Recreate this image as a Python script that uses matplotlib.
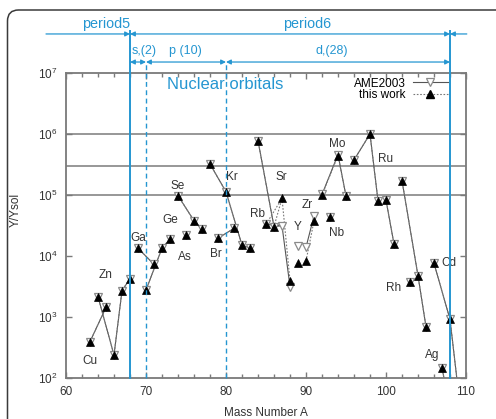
import matplotlib
matplotlib.use("Agg")
import matplotlib.pyplot as plt
from matplotlib.patches import FancyBboxPatch
from matplotlib.transforms import IdentityTransform
from matplotlib.ticker import MultipleLocator, LogLocator, NullLocator

plt.rcParams['font.family'] = ['Liberation Sans', 'DejaVu Sans']
plt.rcParams['mathtext.fontset'] = 'custom'
plt.rcParams['mathtext.rm'] = 'Liberation Sans'
plt.rcParams['mathtext.it'] = 'Liberation Sans:italic'
plt.rcParams['mathtext.bf'] = 'Liberation Sans:bold'

# ---- data -------------------------------------------------------------
mass_numbers = [63, 64, 65, 66, 67, 68, 69, 70, 71, 72, 73, 74, 75, 76, 77,
                78, 79, 80, 81, 82, 83, 84, 85, 86, 87, 88, 89, 90, 91, 92,
                93, 94, 95, 96, 98, 99, 100, 101, 102, 103, 104, 105, 106,
                107, 108, 109, 110]

this_work = [394, 2150, 1440, 238, 2700, 4250, 13400, 2770, 7300, 13400,
             19000, 97500, 22100, 37900, 27700, 322000, 19500, 113000, 28400,
             15100, 13400, 778000, 33000, 30300, 88200, 3940, 7780, 8280,
             37500, 100000, 44100, 441000, 96300, 375000, 1000000, 80700,
             82800, 15700, 172000, 3700, 4750, 693, 7590, 144, 916, 8, 5]

ame2003 = [394, 2150, 1440, 238, 2700, 4250, 13400, 2770, 7300, 13400,
           19000, 97500, 22100, 37900, 27700, 322000, 19500, 113000, 28400,
           15100, 13400, 778000, 33000, 30300, 31400, 3150, 14600, 13900,
           45300, 102000, 44100, 460000, 96300, 375000, 1000000, 80700,
           82800, 15700, 172000, 3700, 4750, 693, 7590, 144, 916, 8, 5]

# isotope chains joined by lines (mass numbers)
chains = [[63, 65], [64, 66, 67, 68], [69, 71], [70, 72, 73], [74, 76, 77],
          [78, 80, 82, 83], [79, 81], [84, 86, 87, 88], [85, 87], [90, 91],
          [92, 94, 95], [96, 98, 99], [100, 101], [102, 104, 105],
          [106, 108, 110], [107, 109]]

element_names = ['Cu', 'Zn', 'Ga', 'Ge', 'As', 'Br', 'Se', 'Kr', 'Rb', 'Sr',
                 'Y', 'Zr', 'Nb', 'Mo', 'Ru', 'Rh', 'Cd', 'Ag']
element_x = [63.0, 64.9, 69.0, 73.0, 74.8, 78.75, 73.9, 80.7, 83.9, 86.9,
             88.9, 90.1, 93.8, 93.9, 99.9, 100.9, 107.8, 105.8]
element_y = [190, 4890, 19500, 38900, 9750, 10800, 142000, 195000, 48900,
             195000, 30200, 68500, 24100, 686000, 385000, 2950, 7590, 238]

reference_levels = [1e6, 3e5, 1e5]

period_bounds = [68, 108]
orbital_bounds = [70, 80]

BLUE = '#2596d1'
GREY = '#7a7a7a'

# ---- figure -----------------------------------------------------------
fig = plt.figure(figsize=(4.96, 4.19), dpi=100)
ax = fig.add_axes([66/496, 41/419, 400/496, 305/419])

ax.set_xscale('linear')
ax.set_yscale('log')
ax.set_xlim(60, 110)
ax.set_ylim(1e2, 1e7)

for lvl in reference_levels:
    ax.axhline(lvl, color='#8f8f8f', lw=1.3, zorder=1)

tw = dict(zip(mass_numbers, this_work))
am = dict(zip(mass_numbers, ame2003))

for ch in chains:
    ax.plot(ch, [am[a] for a in ch], color='#555555', lw=0.8, ls='-',
            zorder=2)
    ax.plot(ch, [tw[a] for a in ch], color='#777777', lw=0.8, ls=(0, (1.5, 1.5)),
            zorder=2)

ax.plot(mass_numbers, ame2003, ls='none', marker='v', ms=6.0,
        mfc='white', mec='#8a8a8a', mew=0.9, zorder=3)
ax.plot(mass_numbers, this_work, ls='none', marker='^', ms=5.5,
        mfc='black', mec='black', mew=0.5, zorder=4)

# legend entries (handles only)
h_ame, = ax.plot([], [], color='#555555', lw=0.8, marker='v', ms=6.0,
                 mfc='white', mec='#8a8a8a', mew=0.9)
h_tw, = ax.plot([], [], color='#777777', lw=0.8, ls=(0, (1.5, 1.5)),
                marker='^', ms=5.5, mfc='black', mec='black')
ax.legend([h_ame, h_tw], ['AME2003', 'this work'], loc='upper right',
          bbox_to_anchor=(0.955, 0.985), frameon=False, markerfirst=False,
          fontsize=8.5, handlelength=3.0, handletextpad=0.6,
          labelspacing=-0.05, borderpad=0, borderaxespad=0)

for name, x, y in zip(element_names, element_x, element_y):
    ax.text(x, y, name, fontsize=8.5, color='#333333', ha='center',
            va='center', zorder=5)

ax.text(79.9, 6.36e6, 'Nuclear orbitals', fontsize=12, color=BLUE,
        ha='center', va='center', zorder=5)

# ---- shell / period markers ------------------------------------------
trans = ax.get_xaxis_transform()
for xb in period_bounds:
    ax.plot([xb, xb], [0, 1.138], transform=trans, color=BLUE, lw=1.4,
            clip_on=False, zorder=6)
for xb in orbital_bounds:
    ax.plot([xb, xb], [0, 1.036], transform=trans, color=BLUE, lw=1.0,
            ls=(0, (3.5, 2.5)), clip_on=False, zorder=6)

def arrow(x0, x1, y, style):
    ax.annotate('', xy=(x1, y), xytext=(x0, y), xycoords=trans,
                textcoords=trans, annotation_clip=False,
                arrowprops=dict(arrowstyle=style, color=BLUE, lw=0.9,
                                shrinkA=0, shrinkB=0, mutation_scale=7))

y_row1 = 1.128
y_row2 = 1.036
arrow(57.5, 68, y_row1, '-|>')
arrow(68, 108, y_row1, '<|-|>')
arrow(110.1, 108, y_row1, '-|>')
arrow(68, 70, y_row2, '<|-|>')
arrow(70, 80, y_row2, '<|-|>')
arrow(80, 108, y_row2, '<|-|>')

ax.text(65.0, 1.161, 'period5', transform=trans, fontsize=10.4, color=BLUE,
        ha='center', va='center')
ax.text(90.1, 1.161, 'period6', transform=trans, fontsize=10.4, color=BLUE,
        ha='center', va='center')
ax.text(69.8, 1.072, 's,(2)', transform=trans, fontsize=9, color=BLUE,
        ha='center', va='center')
ax.text(74.9, 1.072, 'p (10)', transform=trans, fontsize=9, color=BLUE,
        ha='center', va='center')
ax.text(93.2, 1.072, 'd,(28)', transform=trans, fontsize=9, color=BLUE,
        ha='center', va='center')

# ---- axes styling -----------------------------------------------------
ax.xaxis.set_major_locator(MultipleLocator(10))
ax.xaxis.set_minor_locator(MultipleLocator(2))
ax.yaxis.set_major_locator(LogLocator(base=10, numticks=10))
ax.yaxis.set_minor_locator(NullLocator())
ax.tick_params(axis='both', which='both', direction='in', top=True,
               right=True, color=GREY, width=1.0, labelsize=8.5,
               labelcolor='#333333')
ax.tick_params(axis='both', which='major', length=4)
ax.tick_params(axis='both', which='minor', length=3)
ax.tick_params(axis='x', pad=6)
ax.tick_params(axis='y', pad=6)
for sp in ax.spines.values():
    sp.set_color(GREY)
    sp.set_linewidth(1.3)

ax.set_xlabel('Mass Number A', fontsize=8.5, color='#333333', labelpad=6)
ax.set_ylabel('Y/Ysol', fontsize=8.5, color='#333333')
ax.yaxis.set_label_coords(-0.11, 0.55)

# frame around the panel
frame = FancyBboxPatch((7.5, -60), 700, 409 + 60,
                       boxstyle='round,pad=0,rounding_size=11',
                       transform=IdentityTransform(), fill=False,
                       edgecolor='#3a3a3a', lw=1.1)
fig.add_artist(frame)

fig.savefig('out.png', dpi=100)
